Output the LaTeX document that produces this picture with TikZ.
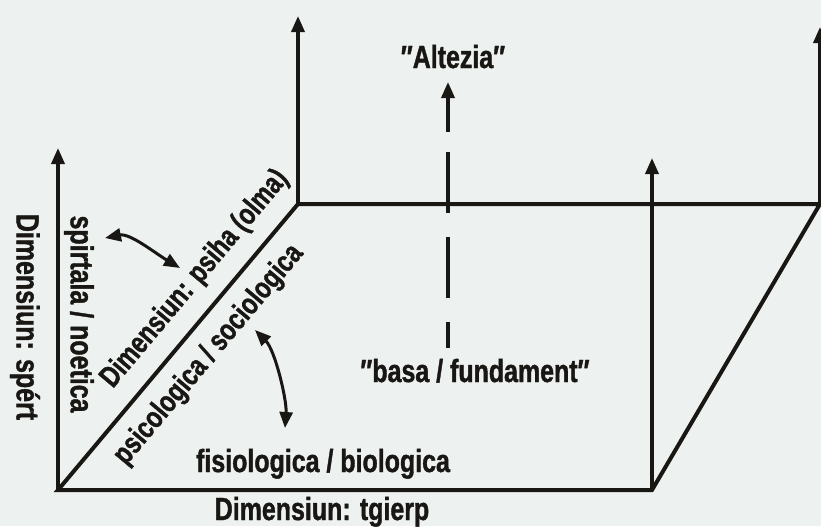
\documentclass[tikz,border=0pt]{standalone}
\usepackage{fontspec}
\setmainfont{Liberation Sans}[FakeStretch=0.78, BoldFeatures={FakeBold=1.2}]
\usetikzlibrary{arrows.meta}
\newlength{\du}
\setlength{\du}{0.5pt}

\begin{document}
\begin{tikzpicture}[
  axisline/.style={line width=4\du, draw=dialinecolor},
  axisarrow/.style={line width=3.5\du, draw=dialinecolor, -{Triangle[length=8pt,width=6.5pt]}},
  bendarrow/.style={line width=3\du, draw=dialinecolor,
    {Triangle[length=8pt,width=6.5pt]}-{Triangle[length=8pt,width=6.5pt]}},
  dimlabel/.style={font=\fontsize{16}{18}\selectfont\bfseries, text=dialinecolor, inner sep=0pt},
  slantlabel/.style={dimlabel, font=\fontsize{15}{17}\selectfont\bfseries, rotate=50}
]
\pgftransformxscale{1.000000}
\pgftransformyscale{-1.000000}
\definecolor{dialinecolor}{rgb}{0.100000, 0.090000, 0.080000}
\definecolor{papercolor}{rgb}{0.930000, 0.945000, 0.940000}
\path[use as bounding box, fill=papercolor] (0\du,0\du) rectangle (821\du,526\du);
% corners of the box
\coordinate (fl) at (58\du,490\du);
\coordinate (fr) at (652\du,490\du);
\coordinate (bl) at (298\du,204\du);
\coordinate (br) at (820\du,204\du);
\coordinate (fltop) at (58\du,148\du);
\coordinate (frtop) at (652\du,158\du);
\coordinate (bltop) at (298\du,16\du);
\coordinate (brtop) at (820\du,27\du);
\draw[axisline, line join=miter] (bl)--(fl)--(fr)--(br)--cycle;
\draw[axisarrow] (fl)--(fltop);
\draw[axisarrow] (fr)--(frtop);
\draw[axisarrow] (bl)--(bltop);
\draw[axisarrow] (br)--(brtop);
% height axis
\coordinate (hbot) at (448\du,348\du);
\coordinate (hmid) at (448\du,152\du);
\coordinate (htail) at (448\du,132\du);
\coordinate (htip) at (448\du,82\du);
\draw[axisarrow, -, dash pattern=on 61\du off 24\du] (hmid)--(hbot);
\draw[axisarrow] (htail)--(htip);
% labels
\node[dimlabel, anchor=base] (altezia) at (453\du,68\du) {″Altezia″};
\node[dimlabel, anchor=base] (basa) at (475\du,382\du) {″basa / fundament″};
\node[dimlabel, anchor=base] (fisio) at (323\du,472\du) {fisiologica / biologica};
\node[dimlabel, anchor=base] (tgierp) at (322\du,520\du) {Dimensiun: tgierp};
\node[dimlabel, rotate=-90] (spert) at (25\du,317\du) {Dimensiun: spért};
\node[dimlabel, rotate=-90] (spirtala) at (79\du,314\du) {spirtala / noetica};
\node[slantlabel] (psiha) at (195\du,279\du) {Dimensiun: psiha (olma)};
\node[slantlabel] (psico) at (209\du,355\du) {psicologica / sociologica};
% curved double arrows
\coordinate (spirtalaend) at (105\du,238\du);
\coordinate (psihaend) at (180\du,268\du);
\coordinate (psicoend) at (255\du,330\du);
\coordinate (fisioend) at (285\du,428\du);
\draw[bendarrow] (spirtalaend) .. controls (130\du,233\du) and (155\du,253\du) .. (psihaend);
\draw[bendarrow] (psicoend) .. controls (275\du,350\du) and (287\du,400\du) .. (fisioend);
\end{tikzpicture}
\end{document}
